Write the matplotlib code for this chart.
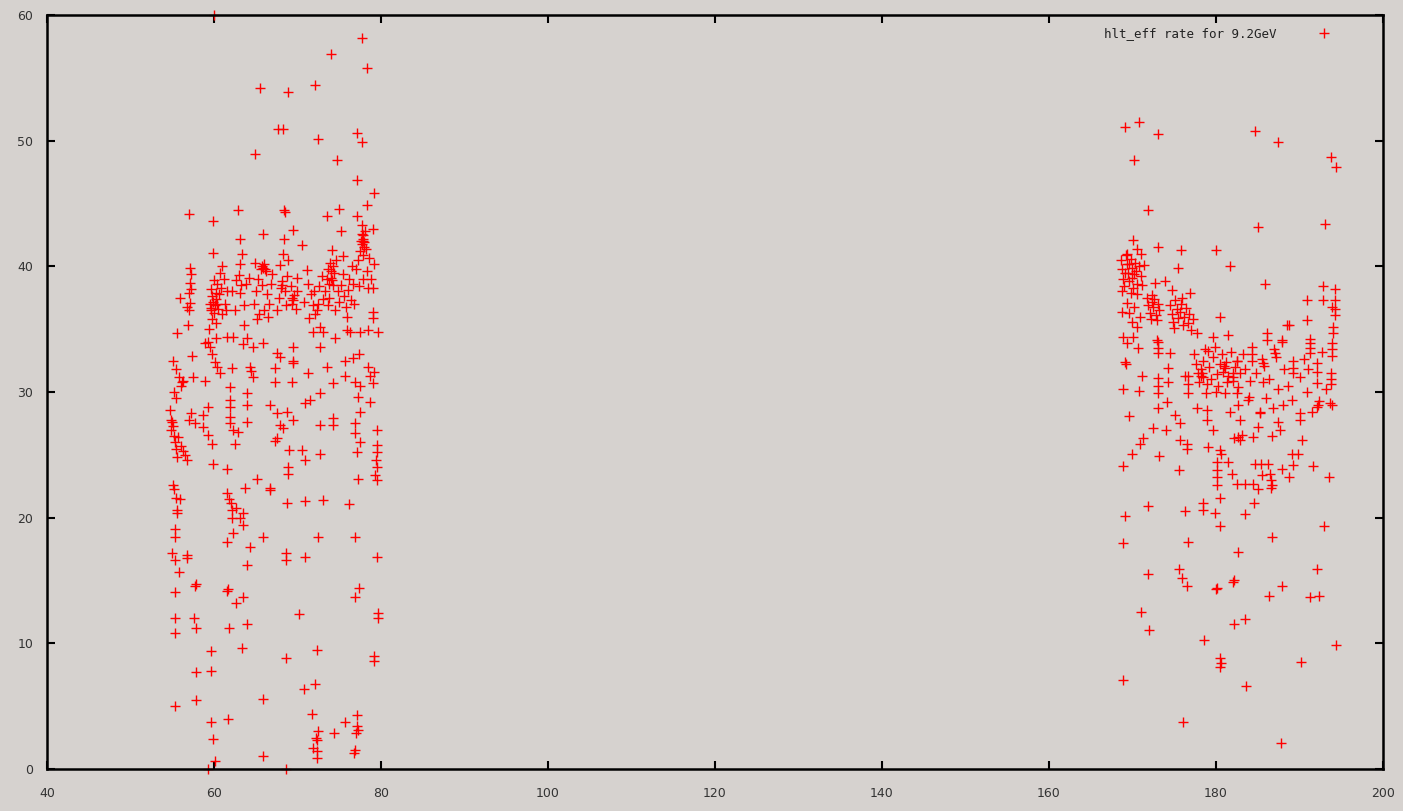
import numpy as np
import matplotlib
matplotlib.use("Agg")
import matplotlib.pyplot as plt

# ---- data (x, y) ----
# left cluster, upper band
left_top = [
    (55.9, 37.5), (55.6, 34.7), (56.9, 35.3), (57.1, 39.9), (57.2, 39.4), (57.1, 38.7), (57.0, 37.9),
    (57.1, 37.1), (57.0, 36.5), (56.8, 36.8), (57.3, 38.2), (57.0, 44.2),
    (59.5, 37.0), (59.7, 36.7), (59.9, 37.2), (60.1, 36.9), (60.3, 37.4), (60.5, 36.6), (60.6, 37.8),
    (60.8, 38.3), (60.4, 38.6), (60.0, 38.9), (59.6, 38.2), (59.8, 35.8), (60.2, 35.5), (61.0, 36.2),
    (61.3, 37.0), (61.5, 38.0), (61.2, 39.0), (60.7, 39.5), (59.4, 35.0), (60.9, 40.0), (61.4, 36.5),
    (59.3, 34.0), (60.2, 34.3), (59.9, 41.1), (59.9, 43.6), (60.0, 60.0),
    (59.8, 37.6), (60.2, 37.9), (60.0, 36.3), (59.6, 36.5), (60.4, 37.0),
    (63.1, 40.2), (63.0, 39.3), (63.2, 38.5), (63.1, 37.9), (62.6, 38.9), (62.2, 38.0), (63.8, 38.6),
    (64.2, 39.1), (63.4, 41.0), (63.1, 42.2), (62.9, 44.5), (62.5, 36.5), (63.6, 36.9), (62.3, 34.4),
    (61.6, 34.4), (63.5, 33.8), (64.0, 34.3), (64.7, 33.6), (63.6, 35.3),
    (64.8, 37.0), (65.0, 38.0), (65.3, 39.0), (65.6, 39.8), (65.9, 39.9), (66.0, 40.2), (66.2, 39.6),
    (65.8, 38.5), (66.3, 37.8), (66.6, 37.0), (66.0, 36.5), (65.4, 36.2), (66.8, 38.6), (67.0, 39.4),
    (64.9, 40.3), (65.2, 35.8), (66.5, 36.0), (65.9, 33.9), (65.9, 42.6), (64.9, 48.9), (65.5, 54.2),
    (65.7, 40.0), (66.1, 39.8),
    (68.3, 41.0), (67.9, 40.1), (67.5, 36.5), (67.8, 37.5), (68.0, 38.3), (68.2, 38.8), (68.5, 38.0),
    (68.8, 39.2), (68.6, 36.9), (69.3, 37.0), (69.5, 37.3), (69.6, 37.7), (69.2, 38.4), (69.9, 39.1),
    (70.0, 38.0), (69.8, 36.6), (68.4, 42.2), (68.4, 44.5), (68.5, 44.3), (69.5, 42.9), (69.5, 33.6),
    (67.5, 33.1), (67.9, 32.8), (69.5, 32.5), (69.5, 32.3), (68.9, 40.5), (68.9, 53.9), (67.7, 50.9),
    (68.3, 50.9), (69.4, 37.5), (68.1, 38.5),
    (70.5, 41.7), (71.1, 39.7), (71.3, 38.6), (71.6, 37.8), (71.9, 36.9), (72.1, 36.2), (72.3, 36.5),
    (72.4, 37.0), (72.0, 38.0), (72.6, 38.4), (72.9, 39.2), (73.1, 37.4), (71.4, 35.9), (72.7, 35.2),
    (70.8, 37.2), (71.9, 34.8), (73.1, 34.8), (72.7, 33.6), (72.5, 50.1), (72.1, 54.4),
    (73.3, 38.0), (73.5, 39.0), (73.7, 39.8), (73.9, 40.3), (74.0, 39.1), (74.2, 38.5), (74.1, 38.9),
    (74.4, 39.5), (74.6, 40.5), (74.8, 38.0), (75.0, 37.2), (75.2, 38.5), (75.4, 39.4), (75.6, 37.6),
    (75.8, 36.8), (76.0, 38.1), (76.2, 39.0), (76.4, 37.3), (76.6, 38.6), (76.8, 37.0), (77.0, 39.8),
    (73.6, 36.9), (74.5, 36.5), (75.9, 36.0), (76.5, 40.0), (74.1, 41.3), (75.2, 42.8), (74.5, 34.3),
    (75.9, 34.9), (76.3, 34.8), (77.5, 34.8), (74.7, 48.5), (74.0, 56.9), (73.5, 44.0), (75.0, 44.6),
    (73.8, 37.5), (75.5, 40.8), (74.0, 39.6), (74.3, 40.0), (73.8, 38.6),
    (77.3, 40.5), (77.5, 41.2), (77.7, 41.8), (77.8, 42.2), (77.9, 42.5), (78.0, 41.9), (78.1, 42.8),
    (77.6, 42.0), (78.2, 41.4), (77.8, 40.9), (78.3, 39.6), (77.9, 39.0), (78.5, 38.3), (78.8, 39.0),
    (79.0, 38.3), (79.2, 40.2), (78.6, 40.7), (77.4, 38.4), (77.1, 44.0), (78.3, 44.9), (79.0, 43.0),
    (77.7, 43.3), (77.1, 46.9), (79.2, 45.8), (77.1, 50.6), (77.7, 49.9), (77.7, 58.2), (78.3, 55.8),
    (79.0, 36.4), (79.0, 35.9), (79.6, 34.8), (78.4, 34.9), (77.9, 42.0), (78.0, 41.5), (77.7, 42.6),
]

# left cluster, middle band
left_mid = [
    (58.9, 33.9), (59.5, 33.6), (59.8, 33.0), (60.1, 32.4), (60.4, 32.0), (57.4, 32.9), (55.1, 32.5),
    (55.5, 31.8), (55.8, 31.2), (56.2, 30.8), (56.0, 30.5), (56.3, 30.9), (57.5, 31.2), (58.9, 30.9),
    (60.7, 31.5), (62.2, 31.9), (64.3, 32.0), (64.4, 31.7), (64.7, 31.2), (67.3, 31.9), (67.3, 30.8),
    (69.3, 30.8), (71.3, 31.5), (73.5, 32.0), (74.3, 30.7), (75.7, 31.3), (75.7, 32.5), (76.7, 32.7),
    (77.4, 33.0), (76.9, 30.8), (77.5, 30.5), (78.4, 32.0), (78.7, 31.3), (79.0, 30.7), (79.2, 31.6),
    (61.9, 30.4), (61.9, 29.4), (61.9, 28.8), (61.9, 28.0), (61.9, 27.5), (62.3, 27.0), (62.9, 26.8),
    (64.0, 29.9), (64.0, 29.0), (64.0, 27.6), (62.5, 25.9), (59.3, 28.8), (58.7, 28.2), (58.7, 27.2),
    (57.7, 27.5), (57.2, 28.3), (57.0, 27.8),
    (54.7, 28.6), (54.9, 27.8), (55.0, 27.6), (55.1, 27.3), (54.8, 27.0), (55.2, 26.5), (55.3, 26.0),
    (55.4, 25.5), (55.6, 24.8), (55.7, 26.4), (56.0, 25.7), (56.3, 25.3), (56.8, 24.6), (56.5, 25.0),
    (55.5, 29.5), (55.2, 30.0),
    (59.3, 26.6), (59.8, 25.9), (59.9, 24.3), (61.6, 23.9), (66.7, 29.0), (67.5, 28.3), (68.7, 28.4),
    (67.9, 27.4), (68.3, 27.1), (67.5, 26.3), (67.3, 26.1), (69.5, 27.8), (70.9, 29.1), (71.5, 29.4),
    (72.7, 29.9), (72.7, 27.4), (74.3, 27.9), (74.3, 27.4), (76.9, 27.5), (76.9, 26.7), (77.2, 29.6),
    (78.7, 29.2), (77.5, 28.4), (77.5, 26.0), (77.1, 25.2), (79.5, 27.0), (79.5, 25.8), (79.5, 25.2),
    (79.4, 24.6), (79.5, 24.0), (79.3, 23.4), (79.5, 23.0), (77.2, 23.1), (69.0, 25.4), (70.5, 25.4),
    (70.9, 24.6), (72.7, 25.1), (68.9, 24.0), (68.9, 23.5), (65.1, 23.1), (63.7, 22.4), (66.7, 22.4),
    (66.7, 22.2), (61.6, 22.0), (61.8, 21.5), (62.0, 21.2), (62.6, 20.8), (63.1, 20.0), (55.1, 22.6),
    (55.2, 22.3), (55.5, 21.6), (55.9, 21.5), (55.6, 20.6), (68.7, 21.2), (70.9, 21.3), (73.1, 21.4),
    (76.2, 21.1),
]

# left cluster, lower part
left_low = [
    (55.6, 20.4), (62.2, 20.6), (62.2, 20.0), (63.5, 20.4), (63.5, 19.4), (55.3, 19.1), (55.3, 18.5),
    (62.3, 18.8), (61.6, 18.1), (64.3, 17.7), (65.9, 18.5), (72.5, 18.5), (76.9, 18.5), (55.0, 17.2),
    (55.3, 16.6), (56.8, 17.0), (56.8, 16.8), (68.6, 17.2), (68.6, 16.6), (70.9, 16.9), (79.5, 16.9),
    (55.8, 15.7), (64.0, 16.2), (55.3, 14.1), (57.7, 14.6), (57.8, 14.7), (61.6, 14.2), (61.7, 14.3),
    (63.5, 13.7), (62.6, 13.2), (77.4, 14.4), (76.9, 13.7), (55.3, 12.0), (57.6, 12.0), (57.9, 11.2),
    (55.3, 10.8), (61.8, 11.2), (64.0, 11.5), (70.2, 12.3), (79.6, 12.4), (79.6, 12.0), (59.6, 9.4),
    (63.4, 9.6), (68.6, 8.8), (72.3, 9.5), (79.2, 9.0), (79.2, 8.6), (57.9, 7.7), (59.6, 7.8),
    (72.1, 6.8), (70.8, 6.4), (55.3, 5.0), (57.9, 5.5), (65.9, 5.6), (71.7, 4.4), (77.1, 4.3),
    (75.7, 3.7), (59.6, 3.7), (61.7, 4.0), (77.1, 3.4), (77.2, 3.1), (77.0, 2.9), (74.4, 2.9),
    (72.5, 3.0), (72.3, 2.3), (72.2, 2.5), (71.9, 1.7), (72.3, 1.4), (72.3, 0.9), (76.9, 1.5),
    (76.8, 1.3), (59.9, 2.4), (60.1, 0.6), (59.3, 0.0), (65.9, 1.0), (68.6, 0.0),
]

# right cluster, upper band
right_top = [
    (169.1, 51.1), (170.8, 51.5), (173.1, 50.5), (170.2, 48.5), (184.7, 50.8), (187.4, 49.9),
    (193.8, 48.7), (194.4, 47.9), (171.9, 44.5), (185.0, 43.1), (193.1, 43.4), (170.1, 42.1),
    (170.5, 41.4), (173.1, 41.5), (175.8, 41.3), (180.0, 41.3), (175.4, 39.9), (181.7, 40.0),
    (168.6, 40.5), (168.8, 39.8), (168.9, 39.0), (169.0, 38.4), (169.2, 40.9), (169.3, 40.2),
    (169.5, 39.5), (169.6, 38.8), (169.8, 40.6), (169.9, 39.9), (170.0, 39.1), (170.1, 38.3),
    (170.3, 40.3), (170.4, 39.6), (170.6, 38.6), (170.8, 40.0), (171.0, 39.2), (171.2, 38.5),
    (171.4, 40.1), (169.4, 41.0), (168.7, 38.0), (169.8, 37.9), (170.5, 37.8), (171.0, 41.0),
    (169.6, 40.2), (170.2, 39.4), (169.1, 39.5),
    (185.9, 38.6), (192.8, 38.4), (194.3, 38.2), (190.9, 37.3), (192.8, 37.3), (194.3, 37.3),
    (194.3, 36.6), (194.3, 36.1), (193.9, 36.8), (172.7, 38.7), (173.9, 38.8), (174.7, 38.1),
    (176.9, 37.9),
    (171.7, 37.5), (171.9, 36.9), (172.1, 36.3), (172.3, 37.2), (172.5, 36.8), (172.6, 37.4),
    (172.8, 36.1), (172.9, 35.7), (173.1, 37.0), (173.2, 36.5), (172.2, 35.8), (172.4, 37.7),
    (174.5, 36.9), (174.7, 36.2), (174.9, 35.6), (175.1, 37.3), (175.3, 36.6), (175.5, 35.9),
    (175.7, 36.4), (175.8, 37.0), (176.0, 35.3), (176.2, 36.0), (176.4, 36.7), (176.6, 35.5),
    (176.8, 36.2), (177.0, 34.9), (177.2, 35.8), (175.0, 35.1), (175.9, 37.5),
    (169.3, 37.1), (169.6, 36.3), (169.9, 35.6), (170.2, 36.8), (170.5, 35.2), (170.9, 36.0),
    (168.7, 36.4),
    (180.5, 36.0), (190.9, 35.7), (194.0, 35.2), (194.0, 34.7), (188.5, 35.3), (188.7, 35.3),
    (177.7, 34.7), (179.6, 34.4), (181.4, 34.5), (186.1, 34.7), (186.1, 34.1), (187.9, 34.1),
    (191.3, 34.2), (168.9, 34.4), (170.1, 34.4), (172.9, 34.1),
]

# right cluster, middle band
right_mid = [
    (169.3, 33.9), (170.7, 33.5), (173.1, 34.0), (173.1, 33.5), (173.1, 33.1), (174.5, 33.1),
    (169.1, 32.4), (169.2, 32.2), (171.1, 31.3), (168.9, 30.2), (170.8, 30.1), (173.1, 31.1),
    (173.1, 30.5), (173.1, 29.9), (174.3, 31.9), (174.3, 30.8), (174.1, 29.2), (173.1, 28.7),
    (169.6, 28.1), (172.5, 27.1), (174.0, 27.0), (171.3, 26.3), (170.9, 25.9), (169.9, 25.1),
    (168.9, 24.1), (173.2, 24.9), (175.6, 23.8), (175.7, 26.2), (176.5, 25.9), (176.5, 25.5),
    (175.1, 28.2), (175.7, 27.5), (176.6, 31.3), (176.6, 30.6), (176.6, 29.9), (176.3, 31.3),
    (177.7, 28.7),
    (177.4, 33.0), (177.6, 32.2), (177.8, 31.5), (178.0, 30.8), (178.2, 31.8), (178.3, 31.5),
    (178.4, 31.2), (178.5, 32.5), (178.7, 33.4), (178.9, 30.6), (179.0, 33.3), (179.2, 32.0),
    (179.4, 31.0), (179.6, 32.8), (179.9, 33.6), (180.1, 31.4), (180.3, 30.5), (180.5, 32.2),
    (180.7, 33.0), (180.9, 31.6), (181.1, 31.9), (181.2, 32.4), (181.3, 30.8), (181.5, 31.3),
    (181.8, 33.2), (182.0, 31.2), (182.1, 30.9), (182.3, 32.0), (182.5, 32.5), (182.7, 30.4),
    (182.9, 31.5), (180.0, 30.0), (178.8, 29.9), (178.2, 31.3), (181.0, 32.1), (182.0, 31.5),
    (178.9, 28.6), (178.9, 27.8), (179.6, 27.0), (179.0, 25.6), (180.5, 25.4), (180.6, 25.1),
    (180.1, 24.4), (180.1, 23.8), (180.1, 23.2), (180.1, 22.6), (181.4, 24.4), (181.9, 23.5),
    (182.6, 26.4), (182.9, 26.2), (183.1, 26.6), (182.2, 26.3), (184.4, 26.4), (185.0, 27.2),
    (186.7, 26.5), (187.7, 27.0), (187.4, 27.6), (185.3, 28.3), (190.3, 26.2), (189.1, 25.1),
    (189.8, 25.1), (189.2, 24.2), (191.6, 24.1), (188.7, 23.2), (187.9, 23.9), (184.7, 24.3),
    (185.4, 24.3), (186.2, 24.3), (185.5, 23.4), (186.5, 23.5), (186.6, 23.0), (186.7, 22.6),
    (186.6, 22.4), (182.5, 22.7), (183.5, 22.7), (184.4, 22.7), (185.0, 22.3), (193.5, 23.2),
    (184.3, 33.6), (184.3, 33.0), (184.3, 32.5), (185.6, 32.3), (185.5, 32.6), (185.8, 32.1),
    (187.1, 33.1), (187.0, 33.4), (187.2, 32.8), (187.9, 34.0), (189.2, 32.5), (189.2, 31.9),
    (189.2, 31.5), (190.1, 31.2), (191.3, 33.9), (191.3, 33.5), (191.3, 33.1), (192.1, 32.3),
    (192.1, 31.6), (192.1, 30.7), (193.9, 33.9), (193.9, 33.4), (193.9, 32.9), (193.8, 31.5),
    (193.8, 31.0), (193.8, 30.6), (192.2, 29.0), (192.3, 29.3), (192.1, 28.8), (193.7, 29.1),
    (193.9, 29.0), (191.5, 28.4), (190.1, 28.3), (190.1, 27.8), (189.1, 29.4), (186.8, 28.7),
    (187.4, 30.2), (185.3, 28.4), (183.8, 29.4), (183.9, 29.6), (184.1, 30.9), (185.6, 30.8),
    (182.5, 32.5), (182.5, 29.9), (182.7, 29.0), (182.9, 27.8), (181.7, 28.4), (181.1, 29.9),
    (183.5, 31.8), (184.8, 31.5), (186.3, 31.0), (188.2, 31.8), (188.6, 30.5), (190.6, 32.6),
    (190.9, 30.0), (191.0, 31.8), (186.0, 29.5), (188.0, 29.0), (192.7, 33.2), (193.2, 30.2),
    (183.2, 33.0),
]

# right cluster, lower part
right_low = [
    (180.5, 21.6), (178.4, 21.2), (178.4, 20.6), (179.9, 20.4), (176.3, 20.5), (171.9, 20.9),
    (169.1, 20.1), (168.9, 18.0), (180.5, 19.3), (176.6, 18.1), (182.6, 17.3), (183.5, 20.3),
    (184.6, 21.2), (186.7, 18.5), (192.9, 19.3), (175.6, 15.9), (175.9, 15.2), (171.9, 15.5),
    (176.5, 14.6), (182.2, 15.0), (192.1, 15.9), (187.9, 14.6), (180.1, 14.4), (180.0, 14.3),
    (182.0, 14.9), (186.3, 13.8), (191.3, 13.7), (192.3, 13.8), (171.0, 12.5), (172.0, 11.1),
    (182.2, 11.5), (183.5, 11.9), (178.6, 10.3), (194.4, 9.9), (180.5, 8.8), (180.6, 8.4),
    (180.5, 8.1), (190.2, 8.5), (168.9, 7.1), (183.6, 6.6), (176.0, 3.7), (187.8, 2.1),
]

series_label = "hlt_eff rate for 9.2GeV"
x_ticks = [40, 60, 80, 100, 120, 140, 160, 180, 200]
y_ticks = [0, 10, 20, 30, 40, 50, 60]

pts = np.array(left_top + left_mid + left_low + right_top + right_mid + right_low)

bg = "#d6d2cf"
fig = plt.figure(figsize=(14.03, 8.11), dpi=100, facecolor=bg)
ax = fig.add_axes([0.0335, 0.0518, 0.9522, 0.9297])
ax.set_facecolor(bg)

ax.plot(pts[:, 0], pts[:, 1], linestyle="none", marker="+", markersize=7,
        markeredgewidth=1.0, color="#ff0000", label=series_label, clip_on=False)

ax.set_xlim(40, 200)
ax.set_ylim(0, 60)
ax.set_xticks(x_ticks)
ax.set_yticks(y_ticks)
ax.tick_params(direction="in", length=6, width=1.5, top=True, right=True,
               labelsize=9, labelcolor="#333333")
ax.tick_params(axis="y", pad=10)
ax.tick_params(axis="x", pad=13)
for s in ax.spines.values():
    s.set_linewidth(1.8)
    s.set_color("black")

leg = ax.legend(loc="upper right", frameon=False, markerfirst=False,
                handlelength=1.2, handletextpad=3.2, fontsize=9,
                borderaxespad=0.6, bbox_to_anchor=(0.9705, 1.0))
for t in leg.get_texts():
    t.set_color("#222222")
    t.set_family("DejaVu Sans Mono")

fig.savefig("out.png", dpi=100, facecolor=bg)
